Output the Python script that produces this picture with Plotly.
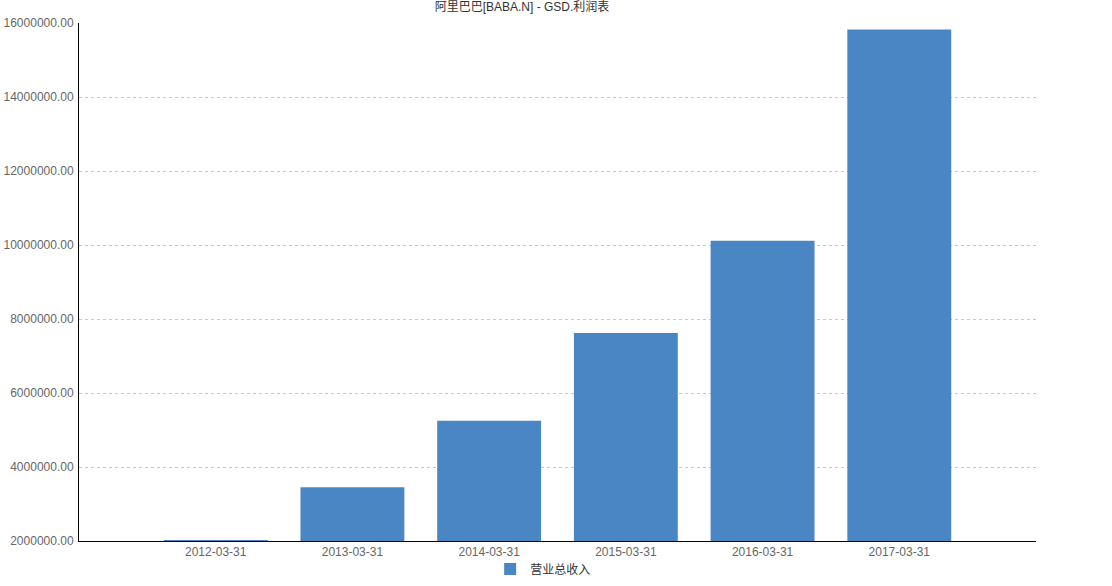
import plotly.graph_objects as go

TITLE = "阿里巴巴[BABA.N] - GSD.利润表"
SERIES_NAME = "营业总收入"

dates = ["2012-03-31", "2013-03-31", "2014-03-31", "2015-03-31", "2016-03-31", "2017-03-31"]
revenue = [2025000, 3451700, 5250400, 7620400, 10114300, 15827300]

y_ticks = [2000000, 4000000, 6000000, 8000000, 10000000, 12000000, 14000000, 16000000]

font_family = "Liberation Sans, Noto Sans CJK SC, sans-serif"

fig = go.Figure()
fig.add_trace(go.Bar(x=dates, y=revenue, name=SERIES_NAME,
                     marker=dict(color="#4A86C4", line=dict(width=0))))

fig.update_layout(
    width=1112, height=586,
    margin=dict(l=79, r=76, t=23, b=45, autoexpand=False),
    plot_bgcolor="white", paper_bgcolor="white",
    font=dict(family=font_family, size=12, color="#666666"),
    title=dict(text=TITLE, x=522 / 1112, xref="container", xanchor="center",
               y=1 - 7 / 586, yref="container", yanchor="middle",
               font=dict(size=12, color="#333333")),
    bargap=0.24,
    showlegend=True,
    legend=dict(orientation="h", x=0.485, xanchor="center", y=-0.054, yanchor="middle",
                bgcolor="rgba(0,0,0,0)", font=dict(size=12, color="#333333")),
)

fig.update_xaxes(type="category", range=[-1, 6], showline=True, linecolor="#000000",
                 linewidth=1, showgrid=False, ticks="", automargin=False,
                 tickfont=dict(color="#666666"))
fig.update_yaxes(range=[2000000, 16000000], tickvals=y_ticks, tickformat=".2f",
                 showline=True, linecolor="#000000", linewidth=1, automargin=False,
                 showgrid=True, gridcolor="#C8C8C8", griddash="3px,3px", gridwidth=1,
                 zeroline=False, ticks="", ticklabelstandoff=2,
                 tickfont=dict(color="#666666"))

# drop the browser's default 8px body margin so the figure sits at the page corner
fig.write_html("out.html", config={"displayModeBar": False},
               post_script="document.body.style.margin='0px';")
